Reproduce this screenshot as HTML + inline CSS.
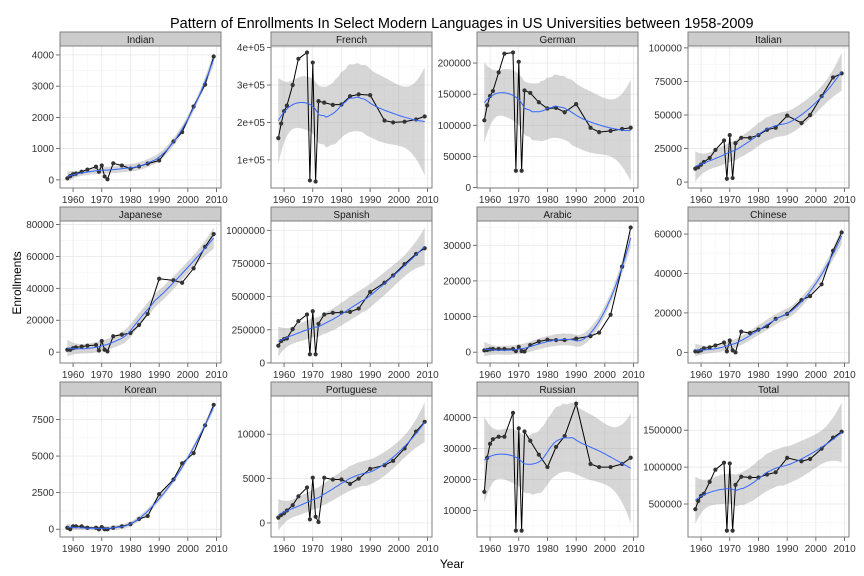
<!DOCTYPE html>
<html><head><meta charset="utf-8">
<style>
body{margin:0;background:#fff;}
svg{display:block;font-family:"Liberation Sans",sans-serif;}
</style></head>
<body>
<svg id="c" width="864" height="576" xmlns="http://www.w3.org/2000/svg">
<rect width="864" height="576" fill="#fff"/>
<text x="170" y="28" font-size="14.5" fill="#000">Pattern of Enrollments In Select Modern Languages in US Universities between 1958-2009</text>
<text x="452" y="568" font-size="12" text-anchor="middle">Year</text>
<text transform="translate(21,283) rotate(-90)" font-size="12" text-anchor="middle">Enrollments</text>
</svg>
<script>
const years=[1958,1959,1960,1961,1963,1965,1968,1969,1970,1971,1972,1974,1977,1980,1983,1986,1990,1995,1998,2002,2006,2009];
const languages=["Indian","French","German","Italian","Japanese","Spanish","Arabic","Chinese","Korean","Portuguese","Russian","Total"];
const indian=[50,120,180,200,260,330,420,260,460,110,20,530,460,360,430,520,620,1230,1530,2350,3050,3950];
const french=[158000,197000,230000,245000,300000,370000,387000,45000,360000,42000,257000,253000,247000,248000,270000,275000,273000,205000,200000,202000,208000,216000];
const german=[108000,132000,147000,155000,185000,215000,217000,27000,202000,27000,156000,152000,137000,127000,128000,121000,134000,96000,89000,91000,94000,96000];
const italian=[10000,11000,13000,15000,18000,24000,31000,2500,35000,3000,29000,33000,33000,35000,39000,40500,49500,44000,50000,64000,78000,81000];
const japanese=[1500,1500,2500,3000,3500,4000,4500,1000,7000,1500,500,10000,11000,12000,17000,24000,46000,45000,43500,52500,66000,74000];
const spanish=[130000,165000,180000,185000,255000,315000,365000,65000,390000,65000,295000,365000,378000,380000,385000,410000,535000,605000,660000,745000,822000,865000];
const arabic=[500,600,800,900,900,900,900,300,1500,300,200,2000,3000,3500,3400,3400,3800,4500,5500,10500,24000,35000];
const chinese=[500,500,1000,2000,2500,3500,5000,500,6000,1000,0,10500,9800,11500,13200,17000,19500,26500,28500,34500,51500,60800];
const korean=[100,0,200,200,200,100,100,0,150,0,0,100,200,350,700,900,2400,3400,4500,5200,7100,8500];
const portuguese=[600,900,1100,1400,2000,3000,4000,400,5100,700,100,5100,4900,4900,4400,5000,6100,6500,7000,8400,10300,11400];
const russian=[16000,27000,31500,33000,33800,33800,41500,3500,36500,3500,35500,32500,28000,24000,30500,34000,44500,25000,24000,24000,25000,27000];
const total=[430000,540000,610000,640000,800000,965000,1060000,140000,1050000,140000,760000,870000,860000,860000,900000,930000,1125000,1080000,1110000,1250000,1400000,1480000];
const seriesList=[indian,french,german,italian,japanese,spanish,arabic,chinese,korean,portuguese,russian,total];
const xTicks=[1960,1970,1980,1990,2000,2010];
const yTicksIndian=[0,1000,2000,3000,4000];
const yTicksFrench=[100000,200000,300000,400000];
const yTicksGerman=[0,50000,100000,150000,200000];
const yTicksItalian=[0,25000,50000,75000,100000];
const yTicksJapanese=[0,20000,40000,60000,80000];
const yTicksSpanish=[0,250000,500000,750000,1000000];
const yTicksArabic=[0,10000,20000,30000];
const yTicksChinese=[0,20000,40000,60000];
const yTicksKorean=[0,2500,5000,7500];
const yTicksPortuguese=[0,5000,10000];
const yTicksRussian=[10000,20000,30000,40000];
const yTicksTotal=[500000,1000000,1500000];
const yTickList=[yTicksIndian,yTicksFrench,yTicksGerman,yTicksItalian,yTicksJapanese,yTicksSpanish,yTicksArabic,yTicksChinese,yTicksKorean,yTicksPortuguese,yTicksRussian,yTicksTotal];

const NS="http://www.w3.org/2000/svg";
const svg=document.getElementById('c');
function mk(tag,attrs,parent){const e=document.createElementNS(NS,tag);for(const k in attrs)e.setAttribute(k,attrs[k]);(parent||svg).appendChild(e);return e;}

function solve3(A,b){const M=A.map((r,i)=>r.concat([b[i]]));for(let i=0;i<3;i++){let p=i;for(let j=i+1;j<3;j++)if(Math.abs(M[j][i])>Math.abs(M[p][i]))p=j;[M[i],M[p]]=[M[p],M[i]];for(let j=0;j<3;j++){if(j===i)continue;const f=M[j][i]/M[i][i];for(let k=i;k<4;k++)M[j][k]-=f*M[i][k];}}return M.map((r,i)=>r[3]/r[i]);}
function loessWeights(xs,x0){const n=xs.length,q=Math.floor(0.75*n);const d=xs.map(x=>Math.abs(x-x0));const ds=d.slice().sort((a,b)=>a-b);const h=ds[q-1]*1.0000001;const w=d.map(v=>{const u=v/h;return u<1?Math.pow(1-u*u*u,3):0;});
 const z=xs.map(x=>x-x0);const A=[[0,0,0],[0,0,0],[0,0,0]];
 for(let i=0;i<n;i++){const v=[1,z[i],z[i]*z[i]];for(let a=0;a<3;a++)for(let b=0;b<3;b++)A[a][b]+=w[i]*v[a]*v[b];}
 const c=solve3(A,[1,0,0]);return xs.map((x,i)=>w[i]*(c[0]+c[1]*z[i]+c[2]*z[i]*z[i]));}
function loessFit(xs,ys){const n=xs.length;const L=xs.map(x=>loessWeights(xs,x));
 const fit=L.map(l=>l.reduce((s,v,i)=>s+v*ys[i],0));let rss=0;for(let i=0;i<n;i++)rss+=(ys[i]-fit[i])**2;
 let d1=0;for(let i=0;i<n;i++)for(let j=0;j<n;j++){const m=(i===j?1:0)-L[j][i];d1+=m*m;}
 const sigma=Math.sqrt(rss/d1);const out=[];
 for(let k=0;k<=80;k++){const x=1958+(2009-1958)*k/80;const l=loessWeights(xs,x);const y=l.reduce((s,v,i)=>s+v*ys[i],0);const se=sigma*Math.sqrt(l.reduce((s,v)=>s+v*v,0));out.push({x,y,lo:y-2.1*se,hi:y+2.1*se});}
 return out;}

const colL=[60,271,477,688], colW=161;
const rowT=[32,207,382], stripH=14, rowB=[188,363,537];
const xMin=1958-0.05*51,xMax=2009+0.05*51;
function fmt(v,i){if(i===1)return (v/100000)+"e+05";return String(v);}

languages.forEach((name,i)=>{
 const col=i%4,row=Math.floor(i/4);
 const L=colL[col],R=L+colW,T=rowT[row]+stripH,B=rowB[row];
 const ys=seriesList[i];const sm=loessFit(years,ys);
 let lo=Math.min(...ys),hi=Math.max(...ys);sm.forEach(p=>{lo=Math.min(lo,p.lo);hi=Math.max(hi,p.hi);});
 const pad=(hi-lo)*0.05;lo-=pad;hi+=pad;
 const sx=x=>L+(x-xMin)/(xMax-xMin)*(R-L);
 const sy=y=>B-(y-lo)/(hi-lo)*(B-T);
 const g=mk('g',{});
 
 
 mk('rect',{x:L,y:T,width:colW,height:B-T,fill:'#fff'},g);
 const yt=yTickList[i];const step=yt[1]-yt[0];
 for(let v=yt[0]-step*1.5;v<=yt[yt.length-1]+step;v+=step){const y=sy(v);if(y>T&&y<B)mk('line',{x1:L,x2:R,y1:y,y2:y,stroke:'#f5f5f5','stroke-width':0.6},g);}
 for(let v=1955;v<=2015;v+=10){const x=sx(v);if(x>L&&x<R)mk('line',{x1:x,x2:x,y1:T,y2:B,stroke:'#f5f5f5','stroke-width':0.6},g);}
 yt.forEach(v=>{const y=sy(v);if(y>=T&&y<=B){mk('line',{x1:L,x2:R,y1:y,y2:y,stroke:'#e5e5e5','stroke-width':0.7},g);
   mk('line',{x1:L-4,x2:L,y1:y,y2:y,stroke:'#4d4d4d','stroke-width':0.8},g);
   const t=mk('text',{x:L-6,y:y+3.5,'font-size':10,'text-anchor':'end',fill:'#333'},g);t.textContent=fmt(v,i);
   
   }});
 xTicks.forEach(v=>{const x=sx(v);mk('line',{x1:x,x2:x,y1:T,y2:B,stroke:'#e5e5e5','stroke-width':0.7},g);
   mk('line',{x1:x,x2:x,y1:B,y2:B+4,stroke:'#4d4d4d','stroke-width':0.8},g);
   const t=mk('text',{x:x,y:B+15,'font-size':10,'text-anchor':'middle',fill:'#333'},g);t.textContent=v;
   
   });
 let d='M'+sm.map(p=>sx(p.x).toFixed(1)+','+sy(p.hi).toFixed(1)).join('L')+'L'+sm.slice().reverse().map(p=>sx(p.x).toFixed(1)+','+sy(p.lo).toFixed(1)).join('L')+'Z';
 const rib=mk('path',{d:d,fill:'#999',opacity:0.4},g);
 
 
 const ln=mk('polyline',{points:years.map((y,k)=>sx(y).toFixed(1)+','+sy(ys[k]).toFixed(1)).join(' '),fill:'none',stroke:'#000','stroke-width':1},g);
 
 
 years.forEach((y,k)=>{const c=mk('circle',{cx:sx(y),cy:sy(ys[k]),r:2.1,fill:'#333'},g);
   
   });
 const s=mk('polyline',{points:sm.map(p=>sx(p.x).toFixed(1)+','+sy(p.y).toFixed(1)).join(' '),fill:'none',stroke:'#3366ff','stroke-width':1},g);
 
 
 mk('rect',{x:L,y:T,width:colW,height:B-T,fill:'none',stroke:'#7f7f7f','stroke-width':1},g);
 const st=mk('rect',{x:L,y:rowT[row],width:colW,height:stripH,fill:'#cccccc',stroke:'#7f7f7f','stroke-width':1},g);
 
 
 const lt=mk('text',{x:L+colW/2,y:rowT[row]+11,'font-size':10,'text-anchor':'middle',fill:'#1a1a1a'},g);lt.textContent=name;
 
 
});
</script>
</body></html>
